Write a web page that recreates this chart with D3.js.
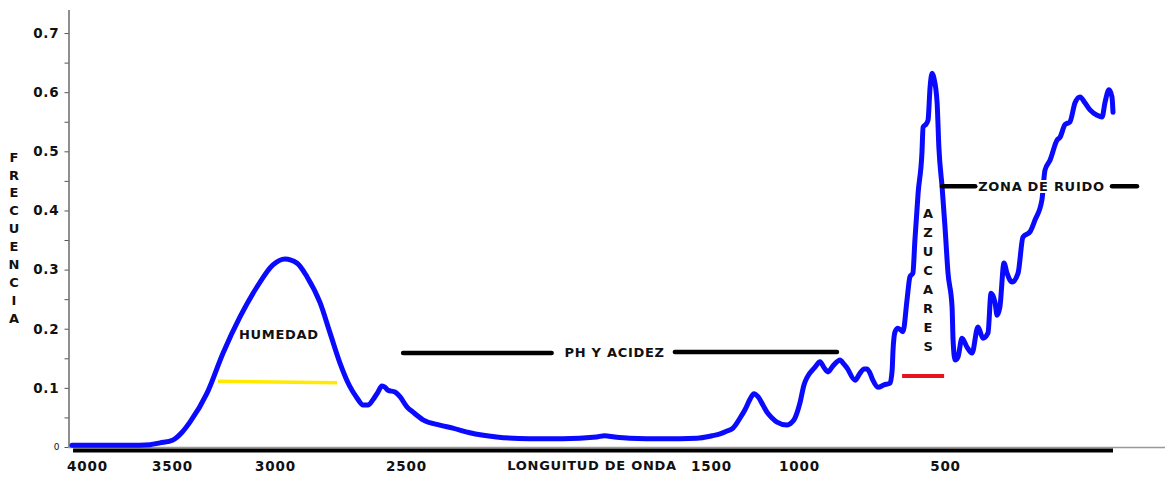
<!DOCTYPE html>
<html>
<head>
<meta charset="utf-8">
<script src="https://cdn.jsdelivr.net/npm/d3@7"></script>
<style>
  body { margin: 0; background: #fff; }
  svg { display: block; background: #fff; }
  text { font-family: "DejaVu Sans", sans-serif; font-weight: bold; fill: #111; }
</style>
</head>
<body>
<svg id="chart" width="1165" height="477"></svg>
<script>
// Espectro: longitud de onda (cm-1) y frecuencia medida
const longitudOnda = [
  4088, 3924, 3747, 3629, 3571, 3495, 3451, 3413, 3330, 3252, 3170, 3087, 3010, 2962, 2916,
  2878, 2828, 2790, 2752, 2714, 2687, 2664, 2645, 2626, 2607, 2592, 2580, 2569, 2542, 2523,
  2497, 2477, 2444, 2389, 2346, 2290, 2202, 2093, 1985, 1874, 1848, 1815, 1766, 1657, 1546,
  1494, 1449, 1409, 1375, 1335, 1307, 1278, 1256, 1233, 1205, 1182, 1153, 1125, 1068, 1040,
  1023, 997, 983, 973, 945, 928, 914, 901, 884, 870, 860, 846, 836, 808, 791,
  777, 767, 757, 747, 729, 709, 688, 681, 678, 671, 661, 644, 630, 620, 610,
  603, 592, 579, 575, 565, 558, 551, 544, 538, 527, 521, 510, 500, 498.2, 495.8,
  495.2, 494.0, 492.3, 489.9, 486.9, 483.9, 480.4, 477.4, 474.4, 472.6, 470.2, 469.0, 467.3, 464.9, 463.1,
  460.1, 456.5, 453.6, 449.4, 446.4, 442.3, 440.5, 437.5, 433.3, 431.5, 428.6, 425.6, 422.6, 419.6, 416.7,
  413.7, 409.5, 406.5, 404.8, 402.4, 400.6, 400.0
];
const frecuencia = [
  0.003, 0.003, 0.003, 0.004, 0.007, 0.012, 0.025, 0.042, 0.091, 0.159, 0.220, 0.271, 0.308, 0.318, 0.311,
  0.288, 0.244, 0.193, 0.142, 0.102, 0.083, 0.071, 0.071, 0.080, 0.093, 0.103, 0.101, 0.096, 0.093, 0.085,
  0.068, 0.059, 0.046, 0.037, 0.032, 0.024, 0.017, 0.014, 0.014, 0.017, 0.019, 0.017, 0.015, 0.014, 0.015,
  0.019, 0.022, 0.027, 0.032, 0.049, 0.063, 0.081, 0.090, 0.085, 0.071, 0.059, 0.049, 0.042, 0.037, 0.042,
  0.049, 0.074, 0.105, 0.117, 0.135, 0.144, 0.134, 0.127, 0.137, 0.144, 0.147, 0.140, 0.134, 0.113, 0.125,
  0.132, 0.132, 0.125, 0.113, 0.101, 0.105, 0.108, 0.130, 0.164, 0.195, 0.201, 0.195, 0.249, 0.288, 0.294,
  0.350, 0.430, 0.497, 0.541, 0.546, 0.553, 0.609, 0.632, 0.624, 0.582, 0.507, 0.440, 0.372, 0.294, 0.237,
  0.181, 0.147, 0.152, 0.184, 0.169, 0.159, 0.203, 0.184, 0.193, 0.260, 0.244, 0.223, 0.237, 0.311, 0.294,
  0.279, 0.294, 0.355, 0.364, 0.384, 0.418, 0.468, 0.485, 0.519, 0.524, 0.545, 0.550, 0.582, 0.592, 0.582,
  0.570, 0.561, 0.558, 0.582, 0.604, 0.592, 0.566
];

// Marcas de los ejes
const ticksX = [4000, 3500, 3000, 2500, 1500, 1000, 500];
const ticksYMenores = d3.range(0, 0.7001, 0.05);

// Zonas marcadas sobre el espectro: [desde, hasta, frecuencia]
const tramosNegros = [[2511, 2021, 0.159], [1618, 870, 0.1606], [510, 482, 0.441], [400.6, 385.7, 0.441]];
const tramoAmarillo = [3277, 2763, 0.111];
const tramoRojo = [647, 503, 0.120];
const etiquetas = [
  { texto: "HUMEDAD", onda: 2985, valor: 0.190 },
  { texto: "PH Y ACIDEZ", onda: 1815, valor: 0.1606 },
  { texto: "ZONA DE RUIDO", onda: 442.6, valor: 0.440 }
];
const etiquetaVertical = { texto: "AZUCARES", onda: 558, valor: 0.396 };
const tituloY = "FRECUENCIA";
const tituloX = "LONGUITUD DE ONDA";

const svg = d3.select("#chart");

// Eje de longitud de onda con tramos de distinta escala
const x = d3.scaleLinear()
  .domain([4000, 3500, 3000, 2500, 2000, 1500, 1000, 500, 400])
  .range([87, 172, 275, 406, 558, 711, 799, 945, 1113]);
const y = d3.scaleLinear().domain([0, 0.74]).range([447, 9.4]);

// Eje Y
const gy = svg.append("g").attr("transform", "translate(68.5,0)")
  .call(d3.axisLeft(y).tickValues(ticksYMenores).tickSize(4).tickSizeOuter(0).tickPadding(5)
    .tickFormat(d => {
      const r = Math.round(d * 100) / 100;
      if (r === 0) return "0";
      return (Math.round(r * 100) % 10 === 0) ? r.toFixed(1) : "";
    }));
gy.select(".domain").attr("stroke", "#444").attr("stroke-width", 1.2);
gy.selectAll(".tick line").attr("stroke", "#555");
gy.selectAll(".tick text")
  .attr("fill", "#111").style("font-size", "13.5px").style("letter-spacing", "0.8px")
  .attr("font-family", null);
gy.selectAll(".tick text").filter(d => Math.abs(d) < 1e-9)
  .style("font-size", "9px").style("font-weight", "normal").style("letter-spacing", "0px");

// Línea base y barra del eje X
svg.append("line")
  .attr("x1", 68).attr("x2", 1165).attr("y1", y(0) + 0.5).attr("y2", y(0) + 0.5)
  .attr("stroke", "#999").attr("stroke-width", 1.5);
svg.append("line")
  .attr("x1", x(longitudOnda[0]) + 1).attr("x2", x(400))
  .attr("y1", y(0) + 3.5).attr("y2", y(0) + 3.5)
  .attr("stroke", "#000").attr("stroke-width", 4);

const gx = svg.append("g").attr("transform", `translate(0,${y(0)})`)
  .call(d3.axisBottom(x).tickValues(ticksX).tickSize(0).tickPadding(14).tickFormat(d3.format("d")));
gx.select(".domain").remove();
gx.selectAll(".tick text").attr("fill", "#111").style("font-size", "13.5px").style("letter-spacing", "0.8px")
  .attr("font-family", null);

// Títulos de los ejes
svg.append("text").attr("x", 592).attr("y", 470).attr("text-anchor", "middle")
  .style("font-size", "13px").style("letter-spacing", "0.7px").text(tituloX);

const ty = svg.append("text").attr("text-anchor", "middle").style("font-size", "13px");
tituloY.split("").forEach((c, i) => {
  ty.append("tspan").attr("x", 14).attr("y", 157 + i * 17.9).attr("dy", "0.36em").text(c);
});

// Espectro
const puntos = longitudOnda.map((w, i) => [w, frecuencia[i]]);
svg.append("path").datum(puntos)
  .attr("fill", "none").attr("stroke", "#0a0aff").attr("stroke-width", 5)
  .attr("stroke-linejoin", "round").attr("stroke-linecap", "round")
  .attr("d", d3.line().x(d => x(d[0])).y(d => y(d[1])).curve(d3.curveMonotoneX));

// Tramos de las zonas
svg.selectAll(".tramo").data(tramosNegros).join("line")
  .attr("x1", d => x(d[0])).attr("x2", d => x(d[1]))
  .attr("y1", d => y(d[2])).attr("y2", d => y(d[2]))
  .attr("stroke", "#000").attr("stroke-width", 4.5).attr("stroke-linecap", "round");
svg.append("line")
  .attr("x1", x(tramoAmarillo[0])).attr("x2", x(tramoAmarillo[1]))
  .attr("y1", y(tramoAmarillo[2])).attr("y2", y(tramoAmarillo[2]) + 1.5)
  .attr("stroke", "#ffea00").attr("stroke-width", 3.5);
svg.append("line")
  .attr("x1", x(tramoRojo[0])).attr("x2", x(tramoRojo[1]))
  .attr("y1", y(tramoRojo[2])).attr("y2", y(tramoRojo[2]))
  .attr("stroke", "#e8141c").attr("stroke-width", 4);

// Etiquetas de las zonas (con fondo blanco sobre el espectro)
svg.selectAll(".etiqueta").data(etiquetas).join("text")
  .attr("x", d => x(d.onda)).attr("y", d => y(d.valor)).attr("dy", "0.36em")
  .attr("text-anchor", "middle").style("font-size", "13px").style("letter-spacing", "0.7px")
  .attr("stroke", "#fff").attr("stroke-width", 4).attr("stroke-linejoin", "round")
  .style("paint-order", "stroke")
  .text(d => d.texto);

const tv = svg.append("text").attr("text-anchor", "middle").style("font-size", "13px");
etiquetaVertical.texto.split("").forEach((c, i) => {
  tv.append("tspan").attr("x", x(etiquetaVertical.onda))
    .attr("y", y(etiquetaVertical.valor) + i * 19.1).attr("dy", "0.36em").text(c);
});
</script>
</body>
</html>
